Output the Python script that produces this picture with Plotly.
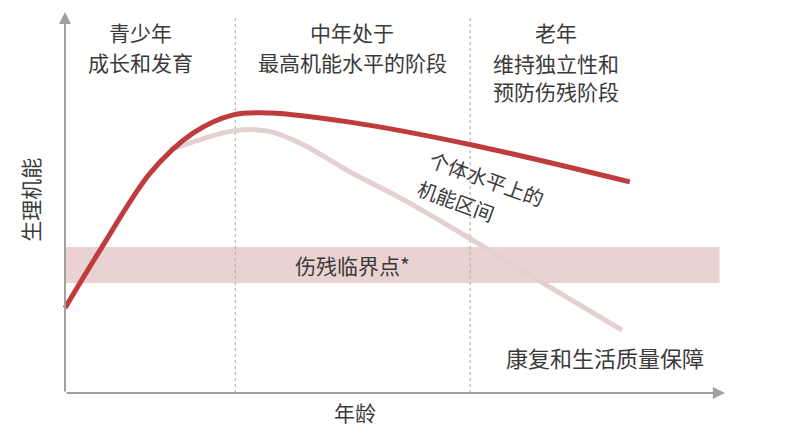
import plotly.graph_objects as go

# 个体水平上的机能区间 (上限, 红线)
upper_age = [0, 5.6, 12.9, 19.4, 25.5, 31.0, 43.2, 61.7, 85.6]
upper_func = [22.3, 38.3, 57.7, 68.2, 73.0, 73.5, 71.1, 65.1, 55.4]

# 下限 (浅色线)
lower_age = [15.9, 20.5, 25.5, 30.6, 35.6, 43.2, 50.8, 61.7, 72.4, 84.4]
lower_func = [63.8, 66.5, 68.8, 68.8, 65.6, 58.0, 51.2, 40.2, 28.9, 16.5]

# 伤残临界点
threshold_low = 28.9
threshold_high = 38.3

# 阶段分界和标题
stage_bounds = [25.8, 61.4]
stage_lines = ["青少年", "成长和发育", "中年处于", "最高机能水平的阶段", "老年", "维持独立性和", "预防伤残阶段"]
stage_x = [11.4, 11.4, 43.5, 43.5, 74.4, 74.4, 74.4]
stage_y = [94.7, 86.9, 94.7, 86.9, 94.7, 86.6, 79.3]

FONT = "Noto Sans CJK SC"
TXT = "#3a3a3a"

fig = go.Figure()

fig.add_trace(go.Scatter(x=lower_age, y=lower_func, mode="lines",
                         line=dict(color="#e3d0d1", width=5, shape="spline", smoothing=1.0),
                         hoverinfo="skip"))
fig.add_trace(go.Scatter(x=upper_age, y=upper_func, mode="lines",
                         line=dict(color="#bf3b3e", width=5, shape="spline", smoothing=0.9),
                         hoverinfo="skip"))

fig.add_shape(type="rect", x0=0, x1=99.2, y0=threshold_low, y1=threshold_high,
              fillcolor="#ebd2d2", line_width=0, layer="below")

for b in stage_bounds:
    fig.add_shape(type="line", x0=b, x1=b, y0=0, y1=98.4,
                  line=dict(color="#a8a8a8", width=1, dash="dot"), layer="below")

# 坐标轴箭头
fig.add_annotation(x=0, y=100, ax=0, ay=0, xref="x", yref="y", axref="x", ayref="y",
                   showarrow=True, arrowhead=2, arrowsize=1.2, arrowwidth=2, arrowcolor="#a0a0a0", text="")
fig.add_annotation(x=100, y=0, ax=0, ay=0, xref="x", yref="y", axref="x", ayref="y",
                   showarrow=True, arrowhead=2, arrowsize=1.2, arrowwidth=2, arrowcolor="#a0a0a0", text="")

for lab, sx, sy in zip(stage_lines, stage_x, stage_y):
    fig.add_annotation(x=sx, y=sy, text=lab, showarrow=False,
                       font=dict(family=FONT, size=21, color=TXT))

fig.add_annotation(x=43.6, y=(threshold_low + threshold_high) / 2, text="伤残临界点*", showarrow=False,
                   font=dict(family=FONT, size=21, color=TXT))
fig.add_annotation(x=63.9, y=56.4, text="个体水平上的", showarrow=False, textangle=20,
                   font=dict(family=FONT, size=20, color=TXT))
fig.add_annotation(x=59.2, y=50.4, text="机能区间", showarrow=False, textangle=20,
                   font=dict(family=FONT, size=20, color=TXT))
fig.add_annotation(x=81.8, y=9.45, text="康复和生活质量保障", showarrow=False,
                   font=dict(family=FONT, size=22, color=TXT))
fig.add_annotation(x=43.9, y=-5, text="年龄", showarrow=False,
                   font=dict(family=FONT, size=21, color=TXT))
fig.add_annotation(x=-5.3, y=50.7, text="生理机能", showarrow=False, textangle=-90,
                   font=dict(family=FONT, size=21, color=TXT))

# 页面自带 8px 边距, 坐标范围相应平移
fig.update_layout(width=800, height=441, margin=dict(l=0, r=0, t=0, b=0),
                  paper_bgcolor="white", plot_bgcolor="white", showlegend=False,
                  xaxis=dict(range=[-8.64, 112.6], visible=False, fixedrange=True),
                  yaxis=dict(range=[-14.7, 101.05], visible=False, fixedrange=True))

fig.write_html("out.html")
